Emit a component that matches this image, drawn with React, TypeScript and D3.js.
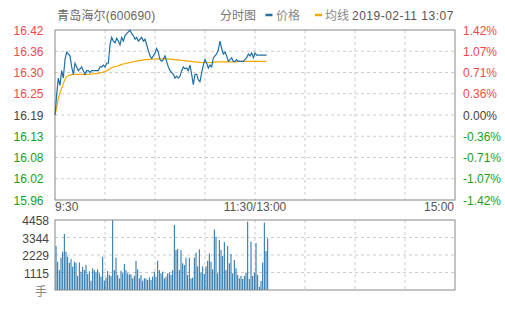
import React from 'react';
import * as d3 from 'd3';

const title = '青岛海尔(600690)';
const chartName = '分时图';
const legendPrice = '价格';
const legendAvg = '均线';
const stamp = '2019-02-11 13:07';
const prevClose = 16.19;
const priceTicks = ['16.42', '16.36', '16.30', '16.25', '16.19', '16.13', '16.08', '16.02', '15.96'];
const pctTicks = ['1.42%', '1.07%', '0.71%', '0.36%', '0.00%', '-0.36%', '-0.71%', '-1.07%', '-1.42%'];
const timeTicks = ['9:30', '11:30/13:00', '15:00'];
const volTicks = ['4458', '3344', '2229', '1115'];
const volUnit = '手';

const prices = [
  16.19, 16.245, 16.29, 16.27, 16.31, 16.29, 16.34, 16.36, 16.355, 16.35,
  16.32, 16.30, 16.33, 16.32, 16.31, 16.315, 16.32, 16.31, 16.30, 16.31,
  16.31, 16.305, 16.31, 16.31, 16.31, 16.31, 16.31, 16.32, 16.32, 16.325,
  16.32, 16.33, 16.33, 16.38, 16.40, 16.39, 16.385, 16.398, 16.39, 16.38,
  16.40, 16.39, 16.405, 16.41, 16.415, 16.42, 16.41, 16.405, 16.395, 16.40,
  16.39, 16.395, 16.40, 16.39, 16.395, 16.38, 16.365, 16.35, 16.343, 16.35,
  16.358, 16.37, 16.36, 16.34, 16.335, 16.34, 16.35, 16.335, 16.32, 16.31,
  16.305, 16.30, 16.29, 16.295, 16.29, 16.295, 16.31, 16.32, 16.315, 16.317,
  16.31, 16.325, 16.30, 16.272, 16.30, 16.30, 16.285, 16.28, 16.305, 16.325,
  16.34, 16.33, 16.317, 16.325, 16.32, 16.345, 16.35, 16.355, 16.367, 16.39,
  16.37, 16.355, 16.36, 16.35, 16.335, 16.34, 16.345, 16.335, 16.335, 16.34,
  16.335, 16.335, 16.335, 16.335, 16.34, 16.345, 16.355, 16.35, 16.358, 16.345,
  16.358, 16.352, 16.352, 16.352, 16.352, 16.352, 16.352, 16.352,
];

const avgPrices = [
  16.19, 16.21, 16.236, 16.25, 16.262, 16.275, 16.287, 16.294, 16.297, 16.298,
  16.299, 16.299, 16.30, 16.30, 16.30, 16.30, 16.30, 16.30, 16.30, 16.30,
  16.30, 16.30, 16.301, 16.301, 16.302, 16.302, 16.303, 16.304, 16.305, 16.306,
  16.308, 16.31, 16.312, 16.315, 16.318, 16.32, 16.321, 16.322, 16.323, 16.325,
  16.327, 16.328, 16.329, 16.33, 16.331, 16.332, 16.333, 16.334, 16.335, 16.336,
  16.337, 16.338, 16.338, 16.339, 16.34, 16.34, 16.34, 16.341, 16.341, 16.341,
  16.342, 16.342, 16.342, 16.342, 16.342, 16.342, 16.342, 16.342, 16.341, 16.341,
  16.341, 16.34, 16.34, 16.339, 16.339, 16.338, 16.338, 16.337, 16.337, 16.336,
  16.336, 16.336, 16.335, 16.334, 16.334, 16.333, 16.333, 16.332, 16.332, 16.332,
  16.332, 16.332, 16.332, 16.332, 16.332, 16.333, 16.333, 16.333, 16.334, 16.334,
  16.334, 16.334, 16.334, 16.334, 16.334, 16.334, 16.334, 16.334, 16.334, 16.334,
  16.335, 16.335, 16.335, 16.335, 16.335, 16.335, 16.335, 16.335, 16.335, 16.335,
  16.335, 16.335, 16.335, 16.335, 16.335, 16.335, 16.335, 16.335,
];

const volumes = [
  2800, 1800, 1270, 2060, 2440, 3570, 2440, 2120, 1740, 1980,
  1480, 1800, 1740, 900, 1760, 1170, 1480, 1270, 1590, 1020,
  1190, 590, 1380, 1270, 1150, 1320, 1060, 850, 2120, 590,
  790, 1210, 955, 890, 4458, 1270, 2060, 955, 740, 1230,
  1060, 1660, 1270, 1060, 1000, 1000, 740, 910, 1850, 1320,
  740, 955, 590, 740, 740, 640, 810, 640, 850, 1170,
  850, 1870, 1270, 1060, 1170, 740, 850, 1060, 1100, 955,
  1270, 4140, 2550, 2610, 1270, 2550, 1700, 1590, 2060, 955,
  2060, 740, 790, 2060, 2380, 1510, 2590, 1100, 1510, 1020,
  1510, 1850, 2330, 1800, 1320, 3860, 3390, 1060, 3180, 2550,
  2170, 3050, 1270, 2800, 1700, 2290, 1060, 1910, 1380, 955,
  740, 890, 700, 890, 1120, 4350, 700, 3080, 890, 1100,
  2990, 955, 210, 573, 1740, 4290, 2480, 3290,
];

const W = 505;
const H = 310;
const L = 55;
const R = 455;
const T = 30;
const B = 200;
const VT = 220;
const VB = 290;
const FONT = '"Liberation Sans", Arial, "Noto Sans CJK SC", sans-serif';
const RED = '#f24a4a';
const GREEN = '#18a018';
const BLUE = '#1f6fa6';
const ORANGE = '#f5a800';

export default function App() {
  const x = d3.scaleLinear().domain([0, 240]).range([L, R]);
  const y = d3.scaleLinear().domain([prevClose - 0.23, prevClose + 0.23]).range([B, T]);
  const row = d3.scaleLinear().domain([0, 8]).range([T, B]);
  const vy = d3.scaleLinear().domain([0, 4458]).range([VB, VT]);
  const vrow = d3.scaleLinear().domain([0, 4]).range([VT, VB]);
  const cols = d3.range(1, 8).map((i) => x(i * 30));

  const line = d3.line<number>().x((_, i) => x(i)).y((d) => y(d));
  const colorFor = (i: number) => (i < 4 ? RED : i === 4 ? '#444' : GREEN);

  return (
    <svg width={W} height={H} style={{ position: 'absolute', left: 0, top: 0, background: '#fff' }} fontFamily={FONT}>
      <rect x={0} y={0} width={W} height={H} fill="#fff" />
      {/* header */}
      <text x={57} y={20} fontSize={12} fill="#666" letterSpacing={0.2}>{title}</text>
      <text x={220} y={20} fontSize={12} fill="#777">{chartName}</text>
      <line x1={265.5} x2={272.5} y1={15} y2={15} stroke={BLUE} strokeWidth={2.5} />
      <text x={276} y={20} fontSize={12} fill="#888">{legendPrice}</text>
      <line x1={315} x2={322} y1={15} y2={15} stroke={ORANGE} strokeWidth={2.5} />
      <text x={325} y={20} fontSize={12} fill="#888">{legendAvg}</text>
      <text x={352} y={20} fontSize={12} fill="#555" letterSpacing={0.5}>{stamp}</text>

      {/* main grid */}
      {d3.range(1, 8).map((i) => (
        <line key={'h' + i} x1={L} x2={R} y1={row(i)} y2={row(i)} stroke="#ccc" strokeDasharray="3,3" />
      ))}
      {cols.map((cx, i) => (
        <line key={'v' + i} x1={cx} x2={cx} y1={T} y2={B} stroke="#ccc" strokeDasharray="3,3" />
      ))}
      <rect x={L} y={T} width={R - L} height={B - T} fill="none" stroke="#888" strokeWidth={1} />

      {/* lines */}
      <path d={line(avgPrices) || ''} fill="none" stroke={ORANGE} strokeWidth={1.2} />
      <path d={line(prices) || ''} fill="none" stroke={BLUE} strokeWidth={1.2} />

      {/* axis labels */}
      {priceTicks.map((t, i) => (
        <text key={'p' + i} x={43.5} y={row(i) + 1.5} fontSize={12} fill={colorFor(i)} textAnchor="end" dominantBaseline="middle">{t}</text>
      ))}
      {pctTicks.map((t, i) => (
        <text key={'c' + i} x={463} y={row(i) + 1.5} fontSize={12} fill={colorFor(i)} textAnchor="start" dominantBaseline="middle">{t}</text>
      ))}
      <text x={L} y={211} fontSize={12} fill="#555" textAnchor="start">{timeTicks[0]}</text>
      <text x={x(120)} y={211} fontSize={12} fill="#555" textAnchor="middle">{timeTicks[1]}</text>
      <text x={R - 1} y={211} fontSize={12} fill="#555" textAnchor="end">{timeTicks[2]}</text>

      {/* volume */}
      {d3.range(1, 4).map((i) => (
        <line key={'vh' + i} x1={L} x2={R} y1={vrow(i)} y2={vrow(i)} stroke="#ccc" strokeDasharray="3,3" />
      ))}
      {cols.map((cx, i) => (
        <line key={'vv' + i} x1={cx} x2={cx} y1={VT} y2={VB} stroke="#ccc" strokeDasharray="3,3" />
      ))}
      {volumes.map((v, i) => (
        <rect key={'b' + i} x={x(i) + 0.5} y={vy(v)} width={1} height={VB - vy(v)} fill={BLUE} />
      ))}
      <rect x={L} y={VT} width={R - L} height={VB - VT} fill="none" stroke="#888" strokeWidth={1} />
      {volTicks.map((t, i) => (
        <text key={'vt' + i} x={49} y={vrow(i) + 2} fontSize={12} fill="#444" textAnchor="end" dominantBaseline="middle">{t}</text>
      ))}
      <text x={47} y={296} fontSize={12} fill="#888" textAnchor="end">{volUnit}</text>
    </svg>
  );
}
